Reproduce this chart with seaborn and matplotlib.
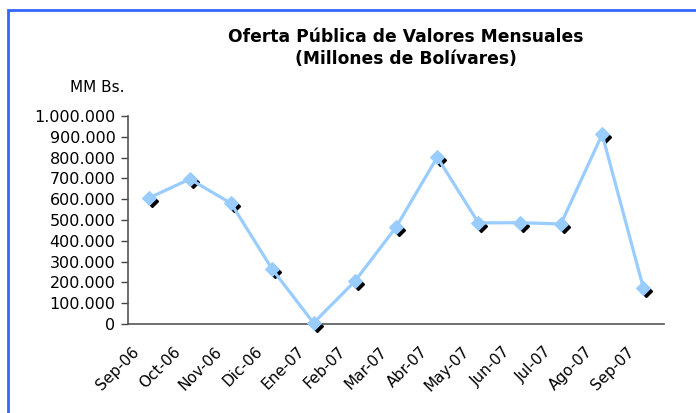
import matplotlib
matplotlib.use("Agg")
import matplotlib.pyplot as plt
import matplotlib.transforms as mtransforms
from matplotlib.patches import Rectangle
from matplotlib.ticker import FixedLocator, FuncFormatter
import seaborn as sns
import pandas as pd

months = ["Sep-06", "Oct-06", "Nov-06", "Dic-06", "Ene-07", "Feb-07", "Mar-07",
          "Abr-07", "May-07", "Jun-07", "Jul-07", "Ago-07", "Sep-07"]
values = [605000, 697000, 580000, 263000, 5000, 205000, 465000,
          802000, 486000, 487000, 481000, 912000, 173000]
yticks = [0, 100000, 200000, 300000, 400000, 500000, 600000, 700000, 800000, 900000, 1000000]

sns.set_style("white")
plt.rcParams["font.family"] = ["DejaVu Sans"]
plt.rcParams["text.color"] = "black"
plt.rcParams["xtick.color"] = "black"
plt.rcParams["ytick.color"] = "black"

df = pd.DataFrame({"pos": range(len(months)), "mes": months, "valor": values})

fig = plt.figure(figsize=(6.96, 4.13), dpi=100)
W, H = 696, 413
ax = fig.add_axes([128 / W, 1 - 324 / H, (664 - 128) / W, (324 - 116) / H])

# shadow markers
shadow = mtransforms.offset_copy(ax.transData, fig=fig, x=3, y=-3, units="dots")
ax.plot(df["pos"], df["valor"], linestyle="none", marker="D", markersize=6.5,
        color="black", transform=shadow, zorder=2, clip_on=False)

sns.lineplot(data=df, x="pos", y="valor", ax=ax, color="#99CCFF", linewidth=2.3,
             marker="D", markersize=7, markeredgecolor="#99CCFF", zorder=3, clip_on=False)

ax.set_xlim(-0.5, len(months) - 0.5)
ax.set_ylim(0, 1000000)
ax.set_xlabel("")
ax.set_ylabel("")

ax.xaxis.set_major_locator(FixedLocator([i - 0.5 for i in range(len(months) + 1)]))
ax.xaxis.set_major_formatter(FuncFormatter(lambda v, p: ""))
ax.set_xticks(list(range(len(months))), minor=True)
ax.set_xticklabels(months, minor=True, rotation=45, ha="right", va="top",
                   rotation_mode="anchor", fontsize=11, color="black")
ax.tick_params(axis="x", which="minor", length=0, pad=0)
ax.tick_params(axis="x", which="major", length=5, width=1, color="#444444", direction="out")
offset = mtransforms.ScaledTranslation(-17 / 100, -20 / 100, fig.dpi_scale_trans)
for lab in ax.get_xticklabels(minor=True):
    lab.set_transform(lab.get_transform() + offset)

ax.set_yticks(yticks)
ax.set_yticklabels([f"{v:,}".replace(",", ".") for v in yticks], fontsize=11.5, color="black")
ax.tick_params(axis="y", length=5, width=1, color="#444444", direction="out", pad=4, left=True)

for s in ["top", "right"]:
    ax.spines[s].set_visible(False)
for s in ["left", "bottom"]:
    ax.spines[s].set_color("#555555")
    ax.spines[s].set_linewidth(1.2)

fig.text(405.5 / W, 1 - 42 / H, "Oferta Pública de Valores Mensuales", ha="center", va="baseline",
         fontsize=12.3, fontweight="bold", color="black")
fig.text(405.5 / W, 1 - 64 / H, "(Millones de Bolívares)", ha="center", va="baseline",
         fontsize=12.3, fontweight="bold", color="black")
fig.text(97 / W, 1 - 92 / H, "MM Bs.", ha="center", va="baseline", fontsize=11, color="black")

fig.patches.append(Rectangle((8 / W, -0.1), 1.2, 1 - 10 / H + 0.1, transform=fig.transFigure,
                             fill=False, edgecolor="#3366FF", linewidth=2, clip_on=False))

fig.savefig("out.png", dpi=100)
